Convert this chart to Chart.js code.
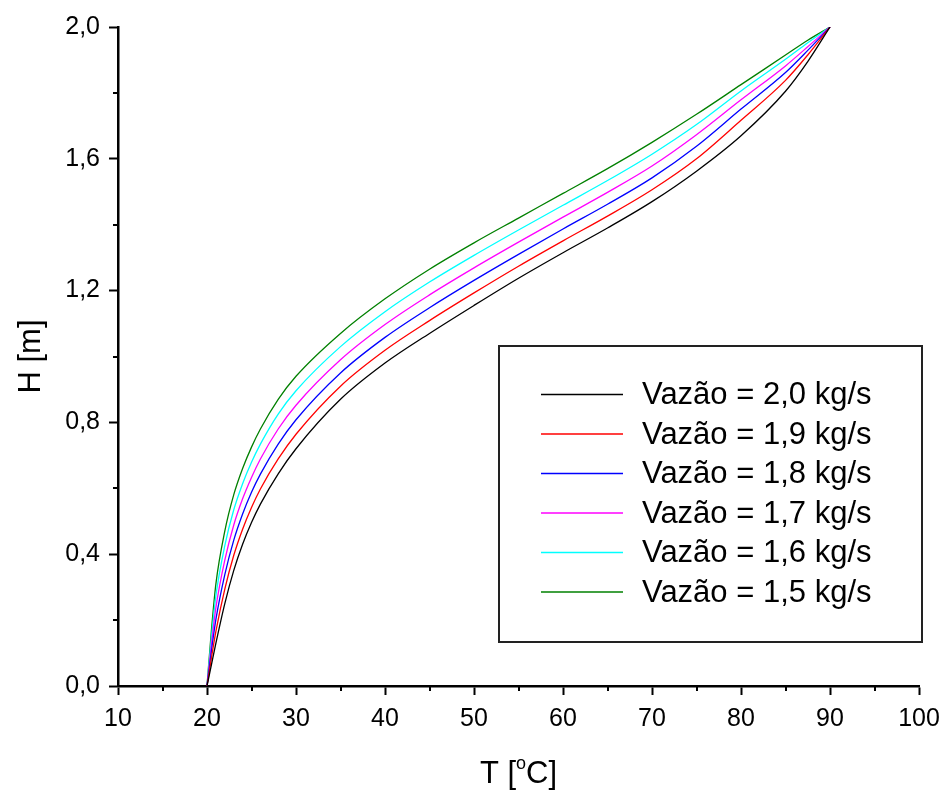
<!DOCTYPE html>
<html>
<head>
<meta charset="utf-8">
<script src="https://cdn.jsdelivr.net/npm/chart.js@4.4.1/dist/chart.umd.min.js"></script>
<style>
  html, body { margin: 0; padding: 0; background: #fff; }
  #wrap { width: 944px; height: 791px; }
</style>
</head>
<body>
<div id="wrap"><canvas id="chart"></canvas></div>
<script>
// data
const temps = [20, 20.5, 21, 22, 23, 24, 25, 26, 28, 30, 35, 40, 45, 50, 55, 60, 65, 70, 75, 80, 85, 87.5, 90];
const h20 = [0, 0.065, 0.13, 0.25, 0.35, 0.43, 0.496, 0.552, 0.644, 0.72, 0.87, 0.98, 1.07, 1.155, 1.2375, 1.315, 1.39, 1.47, 1.5625, 1.67, 1.805, 1.895, 2.0];
const h19 = [0, 0.086, 0.166, 0.294, 0.396, 0.476, 0.542, 0.598, 0.689, 0.764, 0.91, 1.019, 1.109, 1.193, 1.274, 1.351, 1.426, 1.506, 1.6, 1.717, 1.838, 1.915, 2.0];
const h18 = [0, 0.107, 0.202, 0.338, 0.442, 0.522, 0.588, 0.643, 0.734, 0.808, 0.95, 1.058, 1.148, 1.231, 1.31, 1.387, 1.462, 1.542, 1.638, 1.751, 1.862, 1.929, 2.0];
const h17 = [0, 0.128, 0.238, 0.382, 0.488, 0.568, 0.633, 0.689, 0.78, 0.852, 0.99, 1.097, 1.187, 1.269, 1.347, 1.423, 1.498, 1.578, 1.673, 1.779, 1.882, 1.94, 2.0];
const h16 = [0, 0.149, 0.274, 0.426, 0.534, 0.614, 0.679, 0.734, 0.825, 0.896, 1.03, 1.136, 1.226, 1.307, 1.384, 1.459, 1.534, 1.614, 1.704, 1.806, 1.902, 1.952, 2.0];
const h15 = [0, 0.17, 0.31, 0.47, 0.58, 0.66, 0.725, 0.78, 0.87, 0.94, 1.07, 1.175, 1.265, 1.345, 1.42, 1.495, 1.57, 1.65, 1.735, 1.825, 1.915, 1.96, 2.0];

const seriesLabels = ['Vazão = 2,0 kg/s', 'Vazão = 1,9 kg/s', 'Vazão = 1,8 kg/s', 'Vazão = 1,7 kg/s', 'Vazão = 1,6 kg/s', 'Vazão = 1,5 kg/s'];
const seriesValues = [h20, h19, h18, h17, h16, h15];
const seriesColors = ['#000000', '#ff0000', '#0000ff', '#ff00ff', '#00ffff', '#008000'];

const xTicks = [10, 20, 30, 40, 50, 60, 70, 80, 90, 100];
const yTicks = [0, 0.4, 0.8, 1.2, 1.6, 2.0];

const FONT = '"Liberation Sans", Arial, sans-serif';

const datasets = seriesValues.map((vals, i) => ({
  label: seriesLabels[i],
  data: temps.map((t, j) => ({ x: t, y: vals[j] })),
  borderColor: seriesColors[i],
  borderWidth: 1.3,
  pointRadius: 0,
  fill: false,
  cubicInterpolationMode: 'monotone'
}));

// minor ticks, axis titles and the boxed legend
const extras = {
  id: 'extras',
  afterDraw(chart) {
    const ctx = chart.ctx;
    const xs = chart.scales.x, ys = chart.scales.y;
    const area = chart.chartArea;
    ctx.save();
    ctx.strokeStyle = '#000';
    ctx.lineWidth = 2;
    for (let v = 15; v < 100; v += 10) {
      const px = Math.round(xs.getPixelForValue(v));
      ctx.beginPath(); ctx.moveTo(px, area.bottom); ctx.lineTo(px, area.bottom + 5); ctx.stroke();
    }
    for (let v = 0.2; v < 2.0; v += 0.4) {
      const py = Math.round(ys.getPixelForValue(v));
      ctx.beginPath(); ctx.moveTo(area.left, py); ctx.lineTo(area.left - 5, py); ctx.stroke();
    }

    // x title: T [ºC] with raised o
    ctx.fillStyle = '#000';
    ctx.textBaseline = 'alphabetic';
    const a = 'T [', b = 'C]';
    ctx.font = '18px ' + FONT;
    const wo = ctx.measureText('o').width;
    ctx.font = '31px ' + FONT;
    const wa = ctx.measureText(a).width, wb = ctx.measureText(b).width;
    const x0 = (area.left + area.right) / 2 - (wa + wo + wb) / 2;
    const yb = 783;
    ctx.textAlign = 'left';
    ctx.fillText(a, x0, yb);
    ctx.font = '18px ' + FONT;
    ctx.fillText('o', x0 + wa, yb - 14);
    ctx.font = '31px ' + FONT;
    ctx.fillText(b, x0 + wa + wo, yb);

    // y title
    ctx.save();
    ctx.translate(40, (area.top + area.bottom) / 2);
    ctx.rotate(-Math.PI / 2);
    ctx.textAlign = 'center';
    ctx.fillText('H [m]', 0, 0);
    ctx.restore();

    // legend box
    ctx.lineWidth = 2;
    ctx.strokeStyle = '#222';
    ctx.strokeRect(499, 346, 423, 296);
    ctx.font = '31px ' + FONT;
    ctx.textBaseline = 'middle';
    ctx.textAlign = 'left';
    chart.data.datasets.forEach((ds, i) => {
      const y = 394.5 + i * 39.5;
      ctx.strokeStyle = ds.borderColor;
      ctx.lineWidth = 1.3;
      ctx.beginPath(); ctx.moveTo(541, y); ctx.lineTo(623, y); ctx.stroke();
      ctx.fillStyle = '#000';
      ctx.fillText(ds.label, 642, y + 1);
    });
    ctx.restore();
  }
};

new Chart(document.getElementById('chart'), {
  type: 'line',
  data: { datasets },
  options: {
    responsive: true,
    maintainAspectRatio: false,
    animation: false,
    layout: { padding: { left: 0, top: 27, right: 25, bottom: 0 } },
    plugins: { legend: { display: false }, tooltip: { enabled: false } },
    scales: {
      x: {
        type: 'linear',
        min: 10, max: 100,
        afterBuildTicks: s => { s.ticks = xTicks.map(v => ({ value: v })); },
        afterFit: s => { s.height = 105; s.paddingLeft = 0; s.paddingRight = 0; },
        grid: { drawOnChartArea: false, drawTicks: true, tickLength: 9, tickWidth: 2, tickColor: '#000' },
        border: { display: true, color: '#000', width: 2.5 },
        ticks: { color: '#000', padding: 9, font: { family: FONT, size: 25 }, maxRotation: 0 }
      },
      y: {
        min: 0, max: 2.0,
        afterBuildTicks: s => { s.ticks = yTicks.map(v => ({ value: v })); },
        afterFit: s => { s.width = 118; s.paddingTop = 0; s.paddingBottom = 0; },
        grid: { drawOnChartArea: false, drawTicks: true, tickLength: 9, tickWidth: 2, tickColor: '#000' },
        border: { display: true, color: '#000', width: 2.5 },
        ticks: {
          color: '#000', padding: 9, font: { family: FONT, size: 25 },
          callback: v => v.toFixed(1).replace('.', ',')
        }
      }
    }
  },
  plugins: [extras]
});
</script>
</body>
</html>
